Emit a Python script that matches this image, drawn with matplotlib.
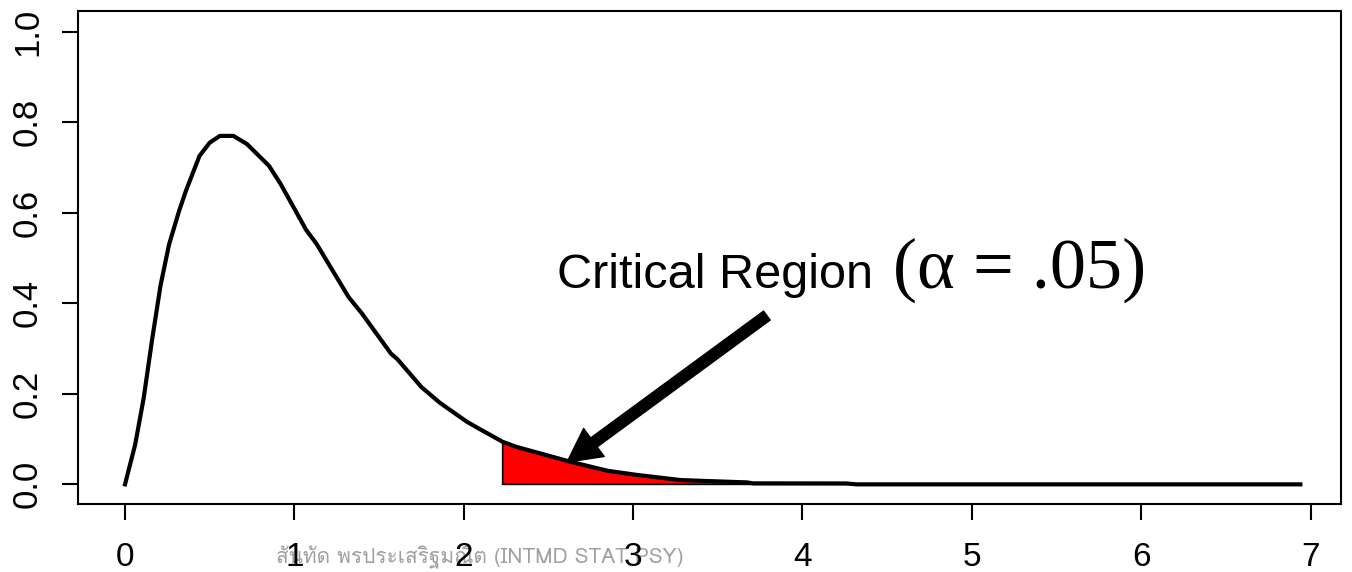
import matplotlib
matplotlib.use("Agg")
import matplotlib.pyplot as plt
from matplotlib import font_manager

# F-density curve
x_vals = [0, 0.06, 0.11, 0.16, 0.21, 0.26, 0.32, 0.36, 0.44, 0.50, 0.56, 0.64,
          0.72, 0.85, 0.92, 1.07, 1.13, 1.32, 1.40, 1.57, 1.61, 1.75, 1.86,
          2.02, 2.10, 2.23, 2.31, 2.63, 2.85, 3.02, 3.28, 3.44, 3.67, 3.71,
          4.26, 4.32, 6.94]
density = [0, 0.088, 0.19, 0.32, 0.44, 0.530, 0.605, 0.649, 0.726, 0.755, 0.770,
           0.770, 0.752, 0.704, 0.663, 0.562, 0.532, 0.414, 0.377, 0.289, 0.276,
           0.215, 0.180, 0.138, 0.121, 0.094, 0.083, 0.050, 0.030, 0.021, 0.0095,
           0.0073, 0.0044, 0.0022, 0.002, 0.0, 0.0]
crit_value = 2.23
x_ticks = [0, 1, 2, 3, 4, 5, 6, 7]
y_ticks = [0.0, 0.2, 0.4, 0.6, 0.8, 1.0]
y_tick_labels = ["0.0", "0.2", "0.4", "0.6", "0.8", "1.0"]
watermark = "สันทัด พรประเสริฐมณิต (INTMD STAT PSY)"

# pick a font that has Thai glyphs, if one is installed
thai_fonts = [f.name for f in font_manager.fontManager.ttflist
              if "Thai" in f.name or f.name in ("Loma", "Garuda", "Norasi", "Kinnari", "Waree")]
wm_family = thai_fonts[:1] + ["Liberation Sans", "DejaVu Sans"]

plt.rcParams["font.family"] = ["Liberation Sans", "DejaVu Sans"]

fig = plt.figure(figsize=(13.52, 5.72), dpi=100)
ax = fig.add_axes([78 / 1352, 1 - 504 / 572, (1341 - 78) / 1352, (504 - 11) / 572])

ax.plot(x_vals, density, color="black", lw=3, zorder=3, solid_joinstyle="round")

# red critical region
rx = [x for x in x_vals if x >= crit_value]
ry = [d for x, d in zip(x_vals, density) if x >= crit_value]
ax.fill(rx + [rx[-1], rx[0]], ry + [0, 0], facecolor="red", edgecolor="black", lw=1.2, zorder=2)

ax.set_xlim(-0.2776, 7.18)
ax.set_ylim(-0.0434, 1.046)
ax.set_xticks(x_ticks)
ax.set_yticks(y_ticks)
ax.set_yticklabels(y_tick_labels, rotation=90, va="center")
ax.tick_params(axis="both", direction="out", length=11.5, width=1.5, labelsize=24)
ax.tick_params(axis="y", labelsize=25)
ax.tick_params(axis="x", pad=16)
ax.tick_params(axis="y", pad=13)
for s in ax.spines.values():
    s.set_linewidth(1.5)

# label and arrow
ax.text(2.552, 0.435, "Critical Region", fontsize=35, ha="left", va="baseline")
ax.text(4.536, 0.435, "(α = .05)", fontsize=52, ha="left", va="baseline",
        family=["Liberation Serif", "DejaVu Serif"])
ax.annotate("", xy=(2.61, 0.049), xytext=(3.79, 0.373),
            arrowprops=dict(facecolor="black", edgecolor="black", width=8, headwidth=25,
                            headlength=24, shrink=0))

fig.text(480 / 1352, 1 - 557 / 572, watermark, color="#a0a0a0", fontsize=15,
         ha="center", va="center", family=wm_family, zorder=-1)

fig.savefig("out.png", dpi=100)
